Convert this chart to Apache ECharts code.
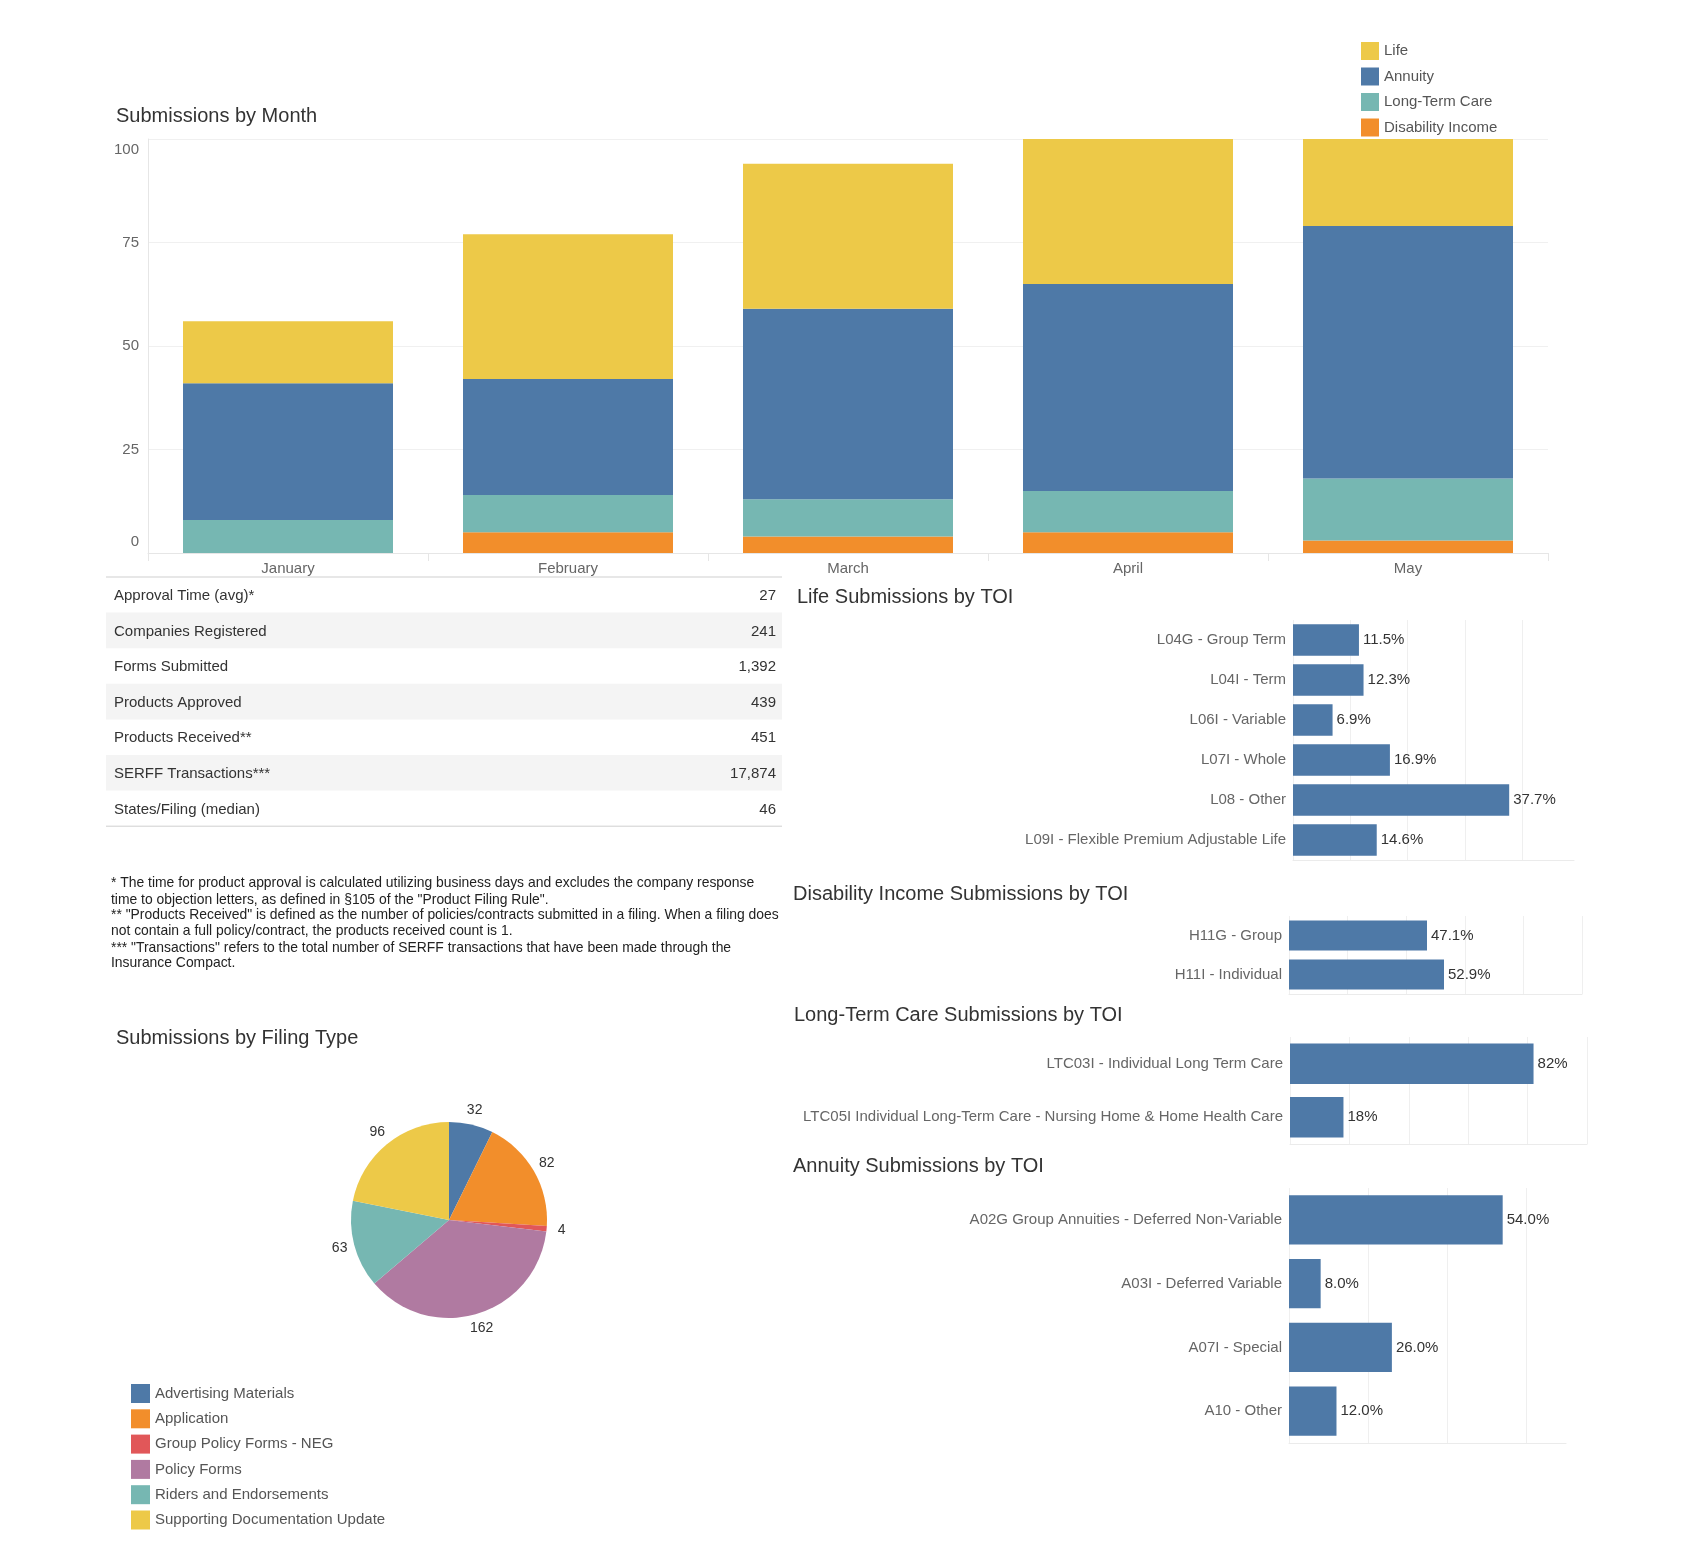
<!DOCTYPE html>
<html>
<head>
<meta charset="utf-8">
<title>Submissions Dashboard</title>
<script src="https://cdn.jsdelivr.net/npm/echarts@6/dist/echarts.min.js"></script>
<style>
  html, body { margin: 0; padding: 0; background: #fff; }
  #dash { width: 1700px; height: 1562px; }
</style>
</head>
<body>
<div id="dash"></div>
<script>
// submissions by month (stacked)
var months = ['January', 'February', 'March', 'April', 'May'];
var lifeByMonth = [15, 35, 35, 43, 37];
var annuityByMonth = [33, 28, 46, 50, 61];
var ltcByMonth = [8, 9, 9, 10, 15];
var diByMonth = [0, 5, 4, 5, 3];

// summary table
var statLabels = ['Approval Time (avg)*', 'Companies Registered', 'Forms Submitted', 'Products Approved',
  'Products Received**', 'SERFF Transactions***', 'States/Filing (median)'];
var statValues = ['27', '241', '1,392', '439', '451', '17,874', '46'];

var footnotes = [
  '* The time for product approval is calculated utilizing business days and excludes the company response',
  'time to objection letters, as defined in §105 of the "Product Filing Rule".',
  '** "Products Received" is defined as the number of policies/contracts submitted in a filing. When a filing does',
  'not contain a full policy/contract, the products received count is 1.',
  '*** "Transactions" refers to the total number of SERFF transactions that have been made through the',
  'Insurance Compact.'
];

// TOI breakdowns (percent)
var lifeToi = ['L04G - Group Term', 'L04I - Term', 'L06I - Variable', 'L07I - Whole', 'L08 - Other',
  'L09I - Flexible Premium Adjustable Life'];
var lifeShare = [11.5, 12.3, 6.9, 16.9, 37.7, 14.6];
var diToi = ['H11G - Group', 'H11I - Individual'];
var diShare = [47.1, 52.9];
var ltcToi = ['LTC03I - Individual Long Term Care',
  'LTC05I Individual Long-Term Care - Nursing Home & Home Health Care'];
var ltcShare = [82, 18];
var annToi = ['A02G Group Annuities - Deferred Non-Variable', 'A03I - Deferred Variable', 'A07I - Special',
  'A10 - Other'];
var annShare = [54.0, 8.0, 26.0, 12.0];

// filing types (pie)
var filingTypes = ['Advertising Materials', 'Application', 'Group Policy Forms - NEG', 'Policy Forms',
  'Riders and Endorsements', 'Supporting Documentation Update'];
var filingCounts = [32, 82, 4, 162, 63, 96];

var FONT = '"Liberation Sans", Arial, sans-serif';
var BLUE = '#4E79A7', ORANGE = '#F28E2B', RED = '#E15759', TEAL = '#76B7B2', YELLOW = '#EDC948', PURPLE = '#B07AA1';
var pieColors = [BLUE, ORANGE, RED, PURPLE, TEAL, YELLOW];

var chart = echarts.init(document.getElementById('dash'));

function mkTitle(text, left, top) {
  return {
    text: text, left: left, top: top, padding: 0,
    textStyle: { fontFamily: FONT, fontSize: 20, fontWeight: 'normal', color: '#333' }
  };
}

function toiX(gi, max, step, showEnd) {
  return {
    gridIndex: gi, type: 'value', min: 0, max: max, interval: step,
    axisLabel: { show: false }, axisTick: { show: false },
    axisLine: { show: true, lineStyle: { color: '#ebebeb' } },
    splitLine: { show: true, showMaxLine: showEnd, lineStyle: { color: '#efefef' } }
  };
}

function toiY(gi, cats) {
  return {
    gridIndex: gi, type: 'category', data: cats, inverse: true,
    axisLine: { show: false }, axisTick: { show: false },
    axisLabel: { fontFamily: FONT, fontSize: 15, color: '#666', margin: 7 }
  };
}

function toiBar(gi, vals, gap, digits) {
  return {
    type: 'bar', xAxisIndex: gi, yAxisIndex: gi, data: vals, barCategoryGap: gap,
    itemStyle: { color: BLUE },
    label: {
      show: true, position: 'right', distance: 4, fontFamily: FONT, fontSize: 15, color: '#333',
      formatter: function (p) { return p.value.toFixed(digits) + '%'; }
    }
  };
}

function monthBar(name, vals, color) {
  return {
    name: name, type: 'bar', stack: 'month', xAxisIndex: 0, yAxisIndex: 0,
    data: vals, barCategoryGap: '25%', itemStyle: { color: color }
  };
}

// table + footnotes as graphic elements
var graphics = [];
var tableLeft = 106, tableRight = 782, rowTop = 577, rowH = 35.6;
statLabels.forEach(function (lab, i) {
  var y = rowTop + i * rowH;
  if (i % 2 === 1) {
    graphics.push({ type: 'rect', shape: { x: tableLeft, y: y, width: tableRight - tableLeft, height: rowH },
      style: { fill: '#f4f4f4' }, silent: true });
  }
  graphics.push({ type: 'text', x: tableLeft + 8, y: y + rowH / 2 + 1,
    style: { text: lab, font: '15px ' + FONT, fill: '#333', align: 'left', verticalAlign: 'middle',
      textAlign: 'left', textVerticalAlign: 'middle' } });
  graphics.push({ type: 'text', x: tableRight - 6, y: y + rowH / 2 + 1,
    style: { text: statValues[i], font: '15px ' + FONT, fill: '#333', align: 'right', verticalAlign: 'middle',
      textAlign: 'right', textVerticalAlign: 'middle' } });
});
[rowTop, rowTop + statLabels.length * rowH].forEach(function (y) {
  graphics.push({ type: 'line', shape: { x1: tableLeft, y1: y, x2: tableRight, y2: y },
    style: { stroke: '#cfcfcf', lineWidth: 1 }, silent: true });
});
var noteY = [883, 900, 915, 931, 948, 963];
footnotes.forEach(function (t, i) {
  graphics.push({ type: 'text', x: 111, y: noteY[i],
    style: { text: t, font: '13.9px ' + FONT, fill: '#222', align: 'left', verticalAlign: 'middle',
      textAlign: 'left', textVerticalAlign: 'middle' } });
});

var option = {
  animation: false,
  textStyle: { fontFamily: FONT },
  title: [
    mkTitle('Submissions by Month', 116, 106),
    mkTitle('Life Submissions by TOI', 797, 587),
    mkTitle('Disability Income Submissions by TOI', 793, 884),
    mkTitle('Long-Term Care Submissions by TOI', 794, 1005),
    mkTitle('Annuity Submissions by TOI', 793, 1156),
    mkTitle('Submissions by Filing Type', 116, 1028)
  ],
  legend: [
    {
      data: ['Life', 'Annuity', 'Long-Term Care', 'Disability Income'],
      orient: 'vertical', left: 1361, top: 42, padding: 0,
      itemWidth: 18, itemHeight: 18, itemGap: 7.5, icon: 'rect',
      textStyle: { fontFamily: FONT, fontSize: 15, color: '#555' }
    },
    {
      data: filingTypes.map(function (n, i) { return { name: n, itemStyle: { color: pieColors[i] } }; }),
      orient: 'vertical', left: 131, top: 1384, padding: 0,
      itemWidth: 19, itemHeight: 19, itemGap: 6.3, icon: 'rect',
      textStyle: { fontFamily: FONT, fontSize: 15, color: '#555' }
    }
  ],
  grid: [
    { left: 148, top: 139, width: 1400, height: 414 },
    { left: 1293, top: 620, width: 281, height: 240 },
    { left: 1289, top: 916, width: 293, height: 78 },
    { left: 1290, top: 1037, width: 297, height: 107 },
    { left: 1289, top: 1188, width: 277, height: 255 }
  ],
  xAxis: [
    {
      gridIndex: 0, type: 'category', data: months,
      axisLine: { lineStyle: { color: '#e6e6e6' } },
      axisTick: { show: true, length: 8, lineStyle: { color: '#e6e6e6' } },
      axisLabel: { fontFamily: FONT, fontSize: 15, color: '#666', margin: 8 }
    },
    toiX(1, 49, 10, false),
    toiX(2, 100, 20, true),
    toiX(3, 100, 20, true),
    toiX(4, 70, 20, false)
  ],
  yAxis: [
    {
      gridIndex: 0, type: 'value', min: 0, max: 100, interval: 25,
      axisLine: { show: true, lineStyle: { color: '#e6e6e6' } },
      axisTick: { show: false },
      axisLabel: { fontFamily: FONT, fontSize: 15, color: '#666', margin: 9, lineHeight: 22,
        verticalAlignMaxLabel: 'top', verticalAlignMinLabel: 'bottom' },
      splitLine: { lineStyle: { color: '#f0f0f0' } }
    },
    toiY(1, lifeToi),
    toiY(2, diToi),
    toiY(3, ltcToi),
    toiY(4, annToi)
  ],
  series: [
    monthBar('Disability Income', diByMonth, ORANGE),
    monthBar('Long-Term Care', ltcByMonth, TEAL),
    monthBar('Annuity', annuityByMonth, BLUE),
    monthBar('Life', lifeByMonth, YELLOW),
    toiBar(1, lifeShare, '21%', 1),
    toiBar(2, diShare, '23%', 1),
    toiBar(3, ltcShare, '24%', 0),
    toiBar(4, annShare, '23%', 1),
    {
      name: 'Filing Type', type: 'pie', center: [449, 1220], radius: 98,
      startAngle: 90, clockwise: true,
      data: filingTypes.map(function (n, i) {
        return { name: n, value: filingCounts[i], itemStyle: { color: pieColors[i] } };
      }),
      label: { show: false }, labelLine: { show: false },
      emphasis: { scale: false }
    },
    {
      // transparent ring that only carries the value labels just outside the pie
      name: 'Filing Type Labels', type: 'pie', center: [449, 1220], radius: [98, 122],
      startAngle: 90, clockwise: true, silent: true,
      data: filingTypes.map(function (n, i) { return { name: n, value: filingCounts[i] }; }),
      itemStyle: { color: 'rgba(0,0,0,0)' },
      label: { show: true, position: 'inside', formatter: '{c}', fontFamily: FONT, fontSize: 14, color: '#333' },
      labelLine: { show: false }
    }
  ],
  graphic: graphics
};

chart.setOption(option);
</script>
</body>
</html>
